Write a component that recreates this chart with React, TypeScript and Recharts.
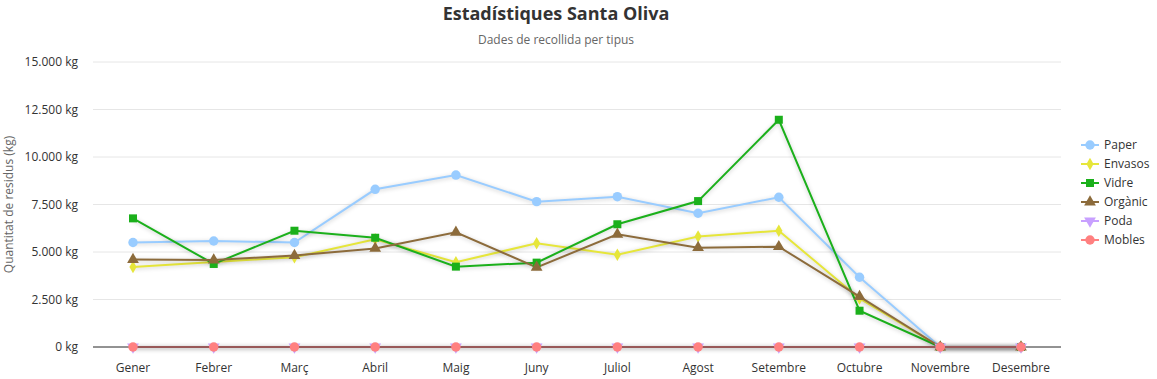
import React from "react"
import { LineChart, Line, XAxis, YAxis, CartesianGrid, Symbols } from "recharts"

const months = [
  "Gener", "Febrer", "Març", "Abril", "Maig", "Juny",
  "Juliol", "Agost", "Setembre", "Octubre", "Novembre", "Desembre",
]

const paper = [5500, 5580, 5500, 8300, 9050, 7650, 7910, 7040, 7880, 3670, 0, 0]
const envasos = [4210, 4480, 4720, 5670, 4460, 5460, 4860, 5810, 6120, 2550, 0, 0]
const vidre = [6770, 4370, 6120, 5750, 4230, 4440, 6460, 7680, 11960, 1910, 0, 0]
const organic = [4600, 4580, 4810, 5190, 6040, 4190, 5930, 5230, 5280, 2650, 0, 0]
const poda = [0, 0, 0, 0, 0, 0, 0, 0, 0, 0, 0, 0]
const mobles = [0, 0, 0, 0, 0, 0, 0, 0, 0, 0, 0, 0]

const yTicks = [0, 2500, 5000, 7500, 10000, 12500, 15000]

const series = [
  { key: "paper", name: "Paper", values: paper, color: "#99ccff", shape: "circle", size: 70 },
  { key: "envasos", name: "Envasos", values: envasos, color: "#e6e63a", shape: "diamond", size: 45 },
  { key: "vidre", name: "Vidre", values: vidre, color: "#1bb01b", shape: "square", size: 64 },
  { key: "organic", name: "Orgànic", values: organic, color: "#8c6b3b", shape: "triangle", size: 60 },
  { key: "poda", name: "Poda", values: poda, color: "#c8a0ff", shape: "triangle-down", size: 60 },
  { key: "mobles", name: "Mobles", values: mobles, color: "#ff8080", shape: "circle", size: 70 },
]

const data = months.map((m, i) => {
  const row: Record<string, string | number> = { month: m }
  series.forEach((s) => (row[s.key] = s.values[i]))
  return row
})

const FONT = "'Open Sans', sans-serif"

const fmt = (v: number) => String(v).replace(/\B(?=(\d{3})+(?!\d))/g, ".") + " kg"

function Marker({ cx, cy, color, shape, size }: any) {
  if (cx == null || cy == null) return null
  if (shape === "triangle-down") {
    return (
      <g transform={`rotate(180 ${cx} ${cy})`}>
        <Symbols cx={cx} cy={cy} type="triangle" size={size} fill={color} />
      </g>
    )
  }
  return <Symbols cx={cx} cy={cy} type={shape} size={size} fill={color} />
}

function YLabel({ viewBox }: any) {
  const cy = viewBox ? viewBox.y + viewBox.height / 2 : 205
  return (
    <text
      x={13}
      y={cy}
      transform={`rotate(-90 13 ${cy})`}
      textAnchor="middle"
      fill="#666"
      fontSize={12}
      fontFamily={FONT}
    >
      Quantitat de residus (kg)
    </text>
  )
}

export default function App() {
  return (
    <div style={{ position: "absolute", left: 0, top: 0, width: 1157, height: 379, fontFamily: FONT, background: "#fff" }}>
      <style>{`.recharts-line-curve { filter: drop-shadow(0px 1px 2px rgba(0,0,0,0.22)); }`}</style>
      <div style={{ position: "absolute", left: 0, width: 1112, top: 1, textAlign: "center", fontSize: 18, fontWeight: 700, color: "#333" }}>
        Estadístiques Santa Oliva
      </div>
      <div style={{ position: "absolute", left: 0, width: 1112, top: 31, textAlign: "center", fontSize: 12, color: "#666" }}>
        Dades de recollida per tipus
      </div>
      <LineChart
        width={1157}
        height={379}
        data={data}
        margin={{ top: 62, right: 96, bottom: 2, left: 0 }}
        style={{ position: "absolute", left: 0, top: 0 }}
      >
        <CartesianGrid vertical={false} stroke="#e6e6e6" />
        <XAxis
          dataKey="month"
          tickLine={false}
          axisLine={{ stroke: "#333" }}
          tickMargin={10}
          padding={{ left: 40, right: 40 }}
          tick={{ fill: "#333", fontSize: 12, fontFamily: FONT }}
          interval={0}
        />
        <YAxis
          width={93}
          domain={[0, 15000]}
          ticks={yTicks}
          tickFormatter={fmt}
          tickLine={false}
          axisLine={false}
          tickMargin={9}
          tick={{ fill: "#333", fontSize: 12, fontFamily: FONT }}
          label={<YLabel />}
        />
        {series.map((s) => (
          <Line
            key={s.key}
            dataKey={s.key}
            name={s.name}
            stroke={s.color}
            strokeWidth={2}
            isAnimationActive={false}
            dot={(p: any) => <Marker key={`${s.key}-${p.index}`} cx={p.cx} cy={p.cy} color={s.color} shape={s.shape} size={s.size} />}
            activeDot={false}
          />
        ))}
      </LineChart>
      <div style={{ position: "absolute", left: 1078, top: 135, fontSize: 12, color: "#333" }}>
        {series.map((s) => (
          <div key={s.key} style={{ display: "flex", alignItems: "center", height: 19 }}>
            <svg width={24} height={14} style={{ marginRight: 2 }}>
              <line x1={3} y1={7} x2={21} y2={7} stroke={s.color} strokeWidth={2} />
              <Marker cx={12} cy={7} color={s.color} shape={s.shape} size={s.size} />
            </svg>
            <span>{s.name}</span>
          </div>
        ))}
      </div>
    </div>
  )
}
